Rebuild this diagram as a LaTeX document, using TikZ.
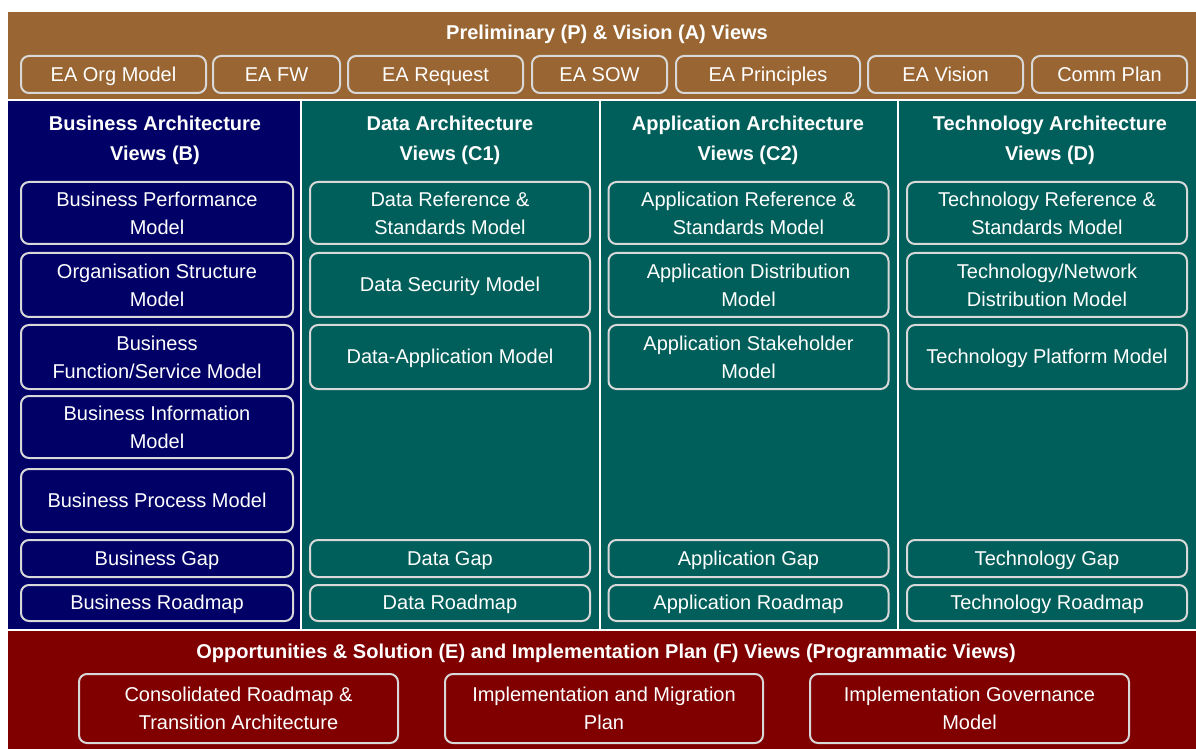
\documentclass[tikz,border=0pt]{standalone}
\usepackage{fontspec}
\setmainfont{Liberation Sans}
\usetikzlibrary{positioning}
\definecolor{prelimbrown}{HTML}{996633}
\definecolor{busnavy}{HTML}{000066}
\definecolor{archteal}{HTML}{005F5A}
\definecolor{progred}{HTML}{800000}
\definecolor{boxline}{HTML}{D8D8D8}
\tikzset{V box/.style={draw=boxline,line width=1pt,rounded corners=4pt,text=white,align=center,inner sep=0pt,font=\fontsize{10}{14}\selectfont},
	S box/.style={V box,text height=9pt,text depth=2.1pt},
	V title/.style={text=white,align=center,inner sep=0pt,font=\bfseries\fontsize{10}{15}\selectfont},
	B box/.style={V box,minimum width=136pt},
	C box/.style={V box,minimum width=140pt},
	Bs box/.style={S box,minimum width=136pt},
	Cs box/.style={S box,minimum width=140pt},}

\begin{document}
\begin{tikzpicture}[x=0.5pt,y=-0.5pt]
			\useasboundingbox (0,0) rectangle (1196,749);
			\fill[white] (0,0) rectangle (1196,749);
			% bands
			\fill[prelimbrown] (8,12) rectangle (1196,100);
			\fill[busnavy] (8,100) rectangle (301,630);
			\fill[archteal] (301,100) rectangle (1196,630);
			\fill[progred] (8,630) rectangle (1196,749);
			\draw[white,line width=0.8pt] (8,100) -- (1196,100) (8,630) -- (1196,630)
				(301,100) -- (301,630) (600,100) -- (600,630) (898,100) -- (898,630);

			% preliminary and vision
			\node[V title] (P) at (607,34) {Preliminary (P) \& Vision (A) Views};
			\node[S box,minimum width=92.5pt,minimum height=18.5pt] (P1) at (113.5,74.5) {EA Org Model};
			\node[S box,minimum width=63.5pt,minimum height=18.5pt] (P2) at (276.5,74.5) {EA FW};
			\node[S box,minimum width=87.5pt,minimum height=18.5pt] (P3) at (435.5,74.5) {EA Request};
			\node[S box,minimum width=67.5pt,minimum height=18.5pt] (P4) at (599.5,74.5) {EA SOW};
			\node[S box,minimum width=92pt,minimum height=18.5pt] (P5) at (768,74.5) {EA Principles};
			\node[S box,minimum width=77.5pt,minimum height=18.5pt] (P6) at (945.5,74.5) {EA Vision};
			\node[S box,minimum width=77.5pt,minimum height=18.5pt] (P7) at (1109.5,74.5) {Comm Plan};

			% business
			\node[V title] (B) at (155,140) {Business Architecture\\Views (B)};
			\node[B box,minimum height=31pt] (B1) at (157,213) {Business Performance\\Model};
			\node[B box,minimum height=32pt] (B2) at (157,285) {Organisation Structure\\Model};
			\node[B box,minimum height=32pt] (B3) at (157,357) {Business\\Function/Service Model};
			\node[B box,minimum height=31pt] (B4) at (157,427) {Business Information\\Model};
			\node[Bs box,minimum height=31.5pt] (B5) at (157,500.5) {Business Process Model};
			\node[Bs box,minimum height=18.5pt] (Bg) at (157,558.5) {Business Gap};
			\node[Bs box,minimum height=18pt] (Br) at (157,603) {Business Roadmap};

			% data
			\node[V title] (C1) at (450,140) {Data Architecture\\Views (C1)};
			\node[C box,minimum height=31pt] (C11) at (450,213) {Data Reference \&\\Standards Model};
			\node[Cs box,minimum height=32pt] (C12) at (450,285) {Data Security Model};
			\node[Cs box,minimum height=32pt] (C13) at (450,357) {Data-Application Model};
			\node[Cs box,minimum height=18.5pt] (C1g) at (450,558.5) {Data Gap};
			\node[Cs box,minimum height=18pt] (C1r) at (450,603) {Data Roadmap};

			% application
			\node[V title] (C2) at (748,140) {Application Architecture\\Views (C2)};
			\node[C box,minimum height=31pt] (C21) at (748.5,213) {Application Reference \&\\Standards Model};
			\node[C box,minimum height=32pt] (C22) at (748.5,285) {Application Distribution\\Model};
			\node[C box,minimum height=32pt] (C23) at (748.5,357) {Application Stakeholder\\Model};
			\node[Cs box,minimum height=18.5pt] (C2g) at (748.5,558.5) {Application Gap};
			\node[Cs box,minimum height=18pt] (C2r) at (748.5,603) {Application Roadmap};

			% technology
			\node[V title] (D) at (1050,140) {Technology Architecture\\Views (D)};
			\node[C box,minimum height=31pt] (D1) at (1047,213) {Technology Reference \&\\Standards Model};
			\node[C box,minimum height=32pt] (D2) at (1047,285) {Technology/Network\\Distribution Model};
			\node[Cs box,minimum height=32pt] (D3) at (1047,357) {Technology Platform Model};
			\node[Cs box,minimum height=18.5pt] (Dg) at (1047,558.5) {Technology Gap};
			\node[Cs box,minimum height=18pt] (Dr) at (1047,603) {Technology Roadmap};

			% opportunities, solutions and implementation
			\node[V title] (E) at (606,653) {Opportunities \& Solution (E) and Implementation Plan (F) Views (Programmatic Views)};
			\node[V box,minimum width=159.5pt,minimum height=34.5pt] (E1) at (238.5,708.5) {Consolidated Roadmap \&\\Transition Architecture};
			\node[V box,minimum width=159pt,minimum height=34.5pt] (E2) at (604,708.5) {Implementation and Migration\\Plan};
			\node[V box,minimum width=159.5pt,minimum height=34.5pt] (E3) at (969.5,708.5) {Implementation Governance\\Model};
		\end{tikzpicture}
\end{document}
